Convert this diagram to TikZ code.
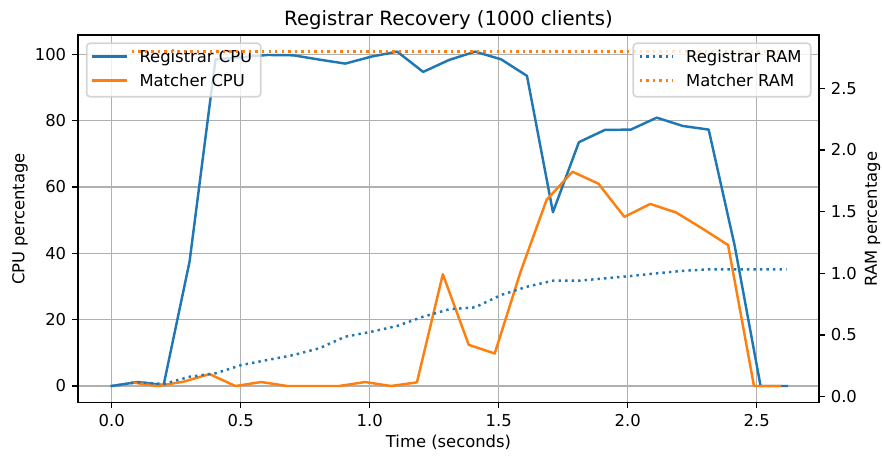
\documentclass[tikz,border=0pt]{standalone}
\usepackage{fontspec}
\setmainfont{DejaVu Sans}
\definecolor{tabblue}{HTML}{1F77B4}
\definecolor{taborange}{HTML}{FF7F0E}
\definecolor{gridgray}{HTML}{B0B0B0}
\definecolor{frameedge}{HTML}{CCCCCC}
\begin{document}
\begin{tikzpicture}[x=0.6102pt,y=-0.6102pt,
  gridline/.style={draw=gridgray,line width=0.8pt},
  spine/.style={draw=black,line width=0.8pt,line join=miter},
  tickmark/.style={draw=black,line width=0.8pt},
  solidseries/.style={line width=1.5pt,line cap=rect,line join=round},
  dotseries/.style={line width=1.5pt,line cap=butt,line join=round,dash pattern=on 1.5pt off 2.475pt},
  ticklabel/.style={inner sep=0pt,font=\fontsize{10}{12}\selectfont},
  legendframe/.style={draw=frameedge,draw opacity=0.8,fill=white,fill opacity=0.8,line width=1pt,rounded corners=2pt},
  legendtext/.style={inner sep=0pt,anchor=base west,font=\fontsize{10}{12}\selectfont},
]
\useasboundingbox (0,0) rectangle (882,457);

% grid of the CPU axis
\foreach \x in {111.7,240.7,369.7,498.7,627.7,756.7}
  \draw[gridline] (\x,35) -- (\x,402.7);
\foreach \y in {386,319.66,253.32,186.98,120.64,54.3}
  \draw[gridline] (78,\y) -- (819,\y);

% CPU series (left axis)
\begin{scope}
\clip (78,35) rectangle (819,402.7);
\begin{scope}[shift={(111.7,386)},x=157.43pt,y=2.024pt]
\draw[solidseries,tabblue] plot coordinates {
  (0,0) (0.1006,1.2) (0.2012,0.3) (0.3018,37.5) (0.4024,98.5) (0.503,99.1)
  (0.6036,99.8) (0.7042,99.7) (0.8048,98.4) (0.9054,97.2) (1.006,99.3)
  (1.1066,100.8) (1.2072,94.7) (1.3078,98.3) (1.4084,100.8) (1.509,98.5)
  (1.6096,93.5) (1.7102,52.4) (1.8108,73.5) (1.9114,77.2) (2.012,77.3)
  (2.1126,80.9) (2.2132,78.4) (2.3138,77.3) (2.4144,42.4) (2.515,0) (2.6156,0)};
\draw[solidseries,taborange] plot coordinates {
  (0.0775,1.1) (0.178,0) (0.2785,1.3) (0.379,3.6) (0.4795,0) (0.58,1.2)
  (0.6805,0) (0.781,0) (0.8815,0) (0.982,1.2) (1.0825,0) (1.183,1.1)
  (1.2835,33.7) (1.384,12.4) (1.4845,9.8) (1.585,34.5) (1.6855,56.1)
  (1.786,64.6) (1.8865,61.0) (1.987,51.0) (2.0875,54.9) (2.188,52.3)
  (2.2885,47.5) (2.389,42.5) (2.4895,0) (2.59,0)};
\end{scope}
\end{scope}

% legend of the CPU axis
\path[legendframe] (86.7,43.3) rectangle (260.7,96.7);
\draw[solidseries,tabblue] (93.3,56.7) -- (126.1,56.7);
\draw[solidseries,taborange] (93.3,80.7) -- (126.1,80.7);
\node[legendtext] (lregcpu) at (139.2,62.3) {Registrar CPU};
\node[legendtext] (lmatcpu) at (139.2,86.3) {Matcher CPU};

% RAM series (right axis)
\begin{scope}
\clip (78,35) rectangle (819,402.7);
\begin{scope}[shift={(111.7,396.6)},x=157.43pt,y=75.24pt]
\draw[dotseries,tabblue] plot coordinates {
  (0,0.086) (0.1006,0.116) (0.2012,0.102) (0.3018,0.161) (0.4024,0.189)
  (0.503,0.256) (0.6036,0.297) (0.7042,0.337) (0.8048,0.392) (0.9054,0.486)
  (1.006,0.526) (1.1066,0.573) (1.2072,0.648) (1.3078,0.708) (1.4084,0.724)
  (1.509,0.824) (1.6096,0.891) (1.7102,0.94) (1.8108,0.94) (1.9114,0.959)
  (2.012,0.978) (2.1126,1.0) (2.2132,1.02) (2.3138,1.032) (2.4144,1.032)
  (2.515,1.032) (2.6156,1.032)};
\draw[dotseries,taborange] (0.0775,2.80) -- (2.59,2.80);
\end{scope}
\end{scope}

% legend of the RAM axis
\path[legendframe] (633.3,43.3) rectangle (810.7,96.7);
\draw[dotseries,tabblue] (639.9,56.7) -- (672.7,56.7);
\draw[dotseries,taborange] (639.9,80.7) -- (672.7,80.7);
\node[legendtext] (lregram) at (685.8,62.3) {Registrar RAM};
\node[legendtext] (lmatram) at (685.8,86.3) {Matcher RAM};

% frame
\draw[spine] (78,35) rectangle (819,402.7);

% x ticks
\foreach \x/\v [count=\k] in {111.7/0.0,240.7/0.5,369.7/1.0,498.7/1.5,627.7/2.0,756.7/2.5} {
  \draw[tickmark] (\x,402.7) -- (\x,408.44);
  \node[ticklabel,anchor=north] (xt\k) at (\x,414.2) {\v};
}
% left ticks
\foreach \y/\v [count=\k] in {386/0,319.66/20,253.32/40,186.98/60,120.64/80,54.3/100} {
  \draw[tickmark] (72.26,\y) -- (78,\y);
  \node[ticklabel,anchor=east] (yt\k) at (66.5,\y) {\v};
}
% right ticks
\foreach \y/\v [count=\k] in {396.6/0.0,334.95/0.5,273.3/1.0,211.65/1.5,150.0/2.0,88.35/2.5} {
  \draw[tickmark] (819,\y) -- (824.74,\y);
  \node[ticklabel,anchor=west] (rt\k) at (830.5,\y) {\v};
}

% titles
\node[inner sep=0pt,anchor=base,font=\fontsize{12}{14}\selectfont] (title) at (448.5,25.2) {Registrar Recovery (1000 clients)};
\node[ticklabel,anchor=base] (xlab) at (448.5,447.5) {Time (seconds)};
\node[ticklabel,anchor=center,rotate=90] (ylab) at (20,219) {CPU percentage};
\node[ticklabel,anchor=center,rotate=90] (rlab) at (872.5,219) {RAM percentage};
\end{tikzpicture}
\end{document}
